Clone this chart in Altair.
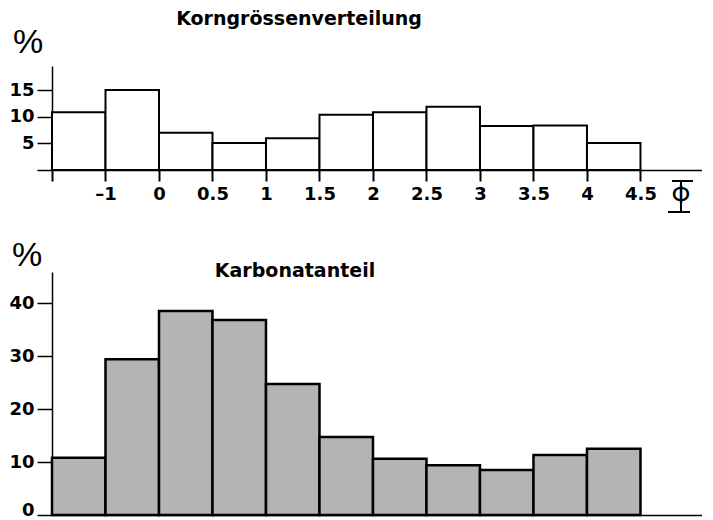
import altair as alt
import pandas as pd

# ---- data ----
bin_index = list(range(11))                      # bins between tick positions 0..11
top_labels = ["", "–1", "0", "0.5", "1", "1.5", "2", "2.5", "3", "3.5", "4", "4.5"]
korn_values = [10.9, 15.1, 7.0, 5.1, 6.0, 10.4, 10.9, 11.9, 8.3, 8.4, 5.1]
karb_values = [10.8, 29.4, 38.5, 36.8, 24.7, 14.7, 10.6, 9.4, 8.5, 11.3, 12.5]
top_title = "Korngrössenverteilung"
bottom_title = "Karbonatanteil"
unit = "%"
phi = "Φ"

FONT = "DejaVu Sans"
W = 650
XMAX = 12.15

top_df = pd.DataFrame({"x": bin_index, "x2": [i + 1 for i in bin_index], "v": korn_values})
bot_df = pd.DataFrame({"x": bin_index, "x2": [i + 1 for i in bin_index], "v": karb_values})

label_expr = "[" + ",".join("'" + s + "'" for s in top_labels) + "][datum.value]"

xs_top = alt.Scale(domain=[0, XMAX], nice=False, zero=False)
ys_top = alt.Scale(domain=[0, 19.6], nice=False)

top_bars = alt.Chart(top_df).mark_bar(fill="white", stroke="black", strokeWidth=2).encode(
    x=alt.X("x:Q", scale=xs_top, title=None,
            axis=alt.Axis(values=list(range(12)), labelExpr=label_expr, tickSize=11, tickWidth=2,
                          tickColor="black", domainColor="black", domainWidth=1.5, grid=False,
                          labelFont=FONT, labelFontWeight="bold", labelFontSize=18,
                          labelColor="black", labelPadding=4, labelFlush=False)),
    x2="x2:Q",
    y=alt.Y("v:Q", scale=ys_top, title=None,
            axis=alt.Axis(values=[0, 5, 10, 15], labelExpr="datum.value == 0 ? '' : datum.label",
                          tickSize=15, tickWidth=1.5, tickColor="black", domainColor="black",
                          domainWidth=1.5, grid=False, labelFont=FONT, labelFontWeight="bold",
                          labelFontSize=18, labelColor="black", labelPadding=3)),
    y2=alt.datum(0),
)

def text_layer(txt, x, y, size, weight="bold", font=FONT, baseline="middle", align="center"):
    return alt.Chart(pd.DataFrame({"t": [txt]})).mark_text(
        font=font, fontSize=size, fontWeight=weight, color="black",
        baseline=baseline, align=align,
    ).encode(text="t:N", x=alt.value(x), y=alt.value(y))

top_title_t = text_layer(top_title, 247, -56, 19, baseline="top")
top_unit = text_layer(unit, -24, -23, 34, weight="normal", font="Liberation Sans")
phi_t = text_layer(phi, 629, 130, 24, weight="normal")
phi_r1 = alt.Chart(pd.DataFrame({"a": [0]})).mark_rule(color="black", strokeWidth=2).encode(
    x=alt.value(620), x2=alt.value(641), y=alt.value(115))
phi_r2 = alt.Chart(pd.DataFrame({"a": [0]})).mark_rule(color="black", strokeWidth=2).encode(
    x=alt.value(616), x2=alt.value(638), y=alt.value(146))
phi_stem = alt.Chart(pd.DataFrame({"a": [0]})).mark_rule(color="black", strokeWidth=2).encode(
    x=alt.value(629), y=alt.value(115), y2=alt.value(146))

top = alt.layer(top_bars, top_title_t, top_unit, phi_t, phi_r1, phi_r2, phi_stem).properties(
    width=W, height=104)

xs_bot = alt.Scale(domain=[0, XMAX], nice=False, zero=False)
ys_bot = alt.Scale(domain=[0, 45.85], nice=False)

bot_bars = alt.Chart(bot_df).mark_bar(fill="#b4b4b4", stroke="black", strokeWidth=2.5).encode(
    x=alt.X("x:Q", scale=xs_bot, title=None,
            axis=alt.Axis(labels=False, ticks=False, domainColor="black", domainWidth=1.5,
                          grid=False)),
    x2="x2:Q",
    y=alt.Y("v:Q", scale=ys_bot, title=None,
            axis=alt.Axis(values=[0, 10, 20, 30, 40], tickSize=15, tickWidth=1.5,
                          tickColor="black", domainColor="black", domainWidth=1.5, grid=False,
                          labelFont=FONT, labelFontWeight="bold", labelFontSize=18,
                          labelColor="black", labelPadding=3,
                          labelBaseline={"condition": {"test": "datum.value == 0",
                                                       "value": "alphabetic"},
                                         "value": "middle"})),
    y2=alt.datum(0),
)

bot_title_t = text_layer(bottom_title, 243, -1, 19)
bot_unit = text_layer(unit, -25, -16, 34, weight="normal", font="Liberation Sans")

bottom = alt.layer(bot_bars, bot_title_t, bot_unit).properties(width=W, height=243)

chart = alt.vconcat(top, bottom, spacing=102, bounds="flush").properties(
    padding={"left": 0, "top": 2, "right": 0, "bottom": 0}
).configure(background="white").configure_view(stroke=None)

chart.save("out.html", embed_options={"renderer": "svg", "actions": False})
